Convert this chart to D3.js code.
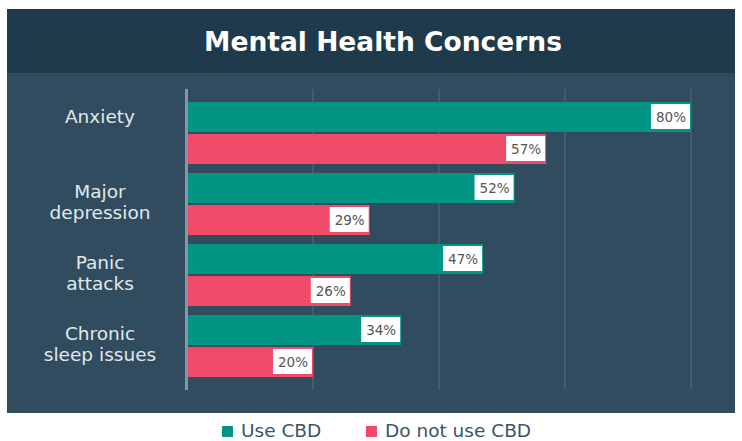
<html>
  <head>
    <meta charset="UTF-8">
    <title>Mental Health Concerns</title>
    <style type="text/css">
      body {
        margin: 0;
        background-color: #fff;
      }
      svg {
        display: block;
        font-family: "DejaVu Sans", sans-serif;
      }
      .catLabel {
        fill: #e3e8ec;
        font-size: 18.5px;
      }
      .valLabel {
        fill: #555;
        font-size: 13.5px;
      }
      .legendText {
        fill: #3b5566;
        font-size: 18.5px;
      }
    </style>
    <script src="https://cdn.jsdelivr.net/npm/d3@7"></script>
  </head>
  <body>
    <div id="chart"></div>

    <script type="text/javascript">

      var width = 742, height = 441;

      // data
      var categories = ["Anxiety", "Major\ndepression", "Panic\nattacks", "Chronic\nsleep issues"];
      var series = ["Use CBD", "Do not use CBD"];
      var useCBD = [80, 52, 47, 34];
      var noCBD = [57, 29, 26, 20];
      var gridTicks = [20, 40, 60, 80];
      var colors = ["#029584", "#ef4b69"];

      var rows = categories.map(function(c, i) {
        return { cat: c, values: [useCBD[i], noCBD[i]] };
      });

      var svg = d3.select("#chart")
        .append("svg")
        .attr("width", width)
        .attr("height", height);

      // panel + title band
      svg.append("rect").attr("x", 7).attr("y", 9).attr("width", 728).attr("height", 404).attr("fill", "#304c5e");
      svg.append("rect").attr("x", 7).attr("y", 9).attr("width", 728).attr("height", 64).attr("fill", "#1e3a4b");
      svg.append("text")
        .attr("x", 383).attr("y", 51)
        .attr("text-anchor", "middle")
        .attr("fill", "#fff")
        .style("font-weight", "bold")
        .style("font-size", "26.5px")
        .text("Mental Health Concerns");

      // scales
      var xScale = d3.scaleLinear().domain([0, 80]).range([187, 691]);
      var yScale = d3.scaleBand().domain(categories).range([89, 390])
        .paddingInner(9 / 71).paddingOuter(13 / 71);
      var sScale = d3.scaleBand().domain(series).range([0, yScale.bandwidth()]).paddingInner(2 / 32);

      // gridlines behind bars
      svg.selectAll(".grid")
        .data(gridTicks)
        .enter()
        .append("line")
        .attr("class", "grid")
        .attr("x1", function(d) { return xScale(d); })
        .attr("x2", function(d) { return xScale(d); })
        .attr("y1", 89).attr("y2", 390)
        .attr("stroke", "#4f697b")
        .attr("stroke-width", 1.2);

      var groups = svg.selectAll(".group")
        .data(rows)
        .enter()
        .append("g")
        .attr("class", "group")
        .attr("transform", function(d) { return "translate(0," + yScale(d.cat) + ")"; });

      var bars = groups.selectAll(".bar")
        .data(function(d) { return d.values.map(function(v, i) { return { s: series[i], v: v, i: i }; }); })
        .enter()
        .append("g")
        .attr("class", "bar");

      bars.append("rect")
        .attr("x", xScale(0))
        .attr("y", function(d) { return sScale(d.s); })
        .attr("width", function(d) { return xScale(d.v) - xScale(0); })
        .attr("height", sScale.bandwidth())
        .attr("fill", function(d) { return colors[d.i]; });

      // white value boxes at bar ends
      bars.append("rect")
        .attr("x", function(d) { return xScale(d.v) - 40; })
        .attr("y", function(d) { return sScale(d.s) + 2; })
        .attr("width", 39)
        .attr("height", 25)
        .attr("fill", "#fff");

      bars.append("text")
        .attr("class", "valLabel")
        .attr("x", function(d) { return xScale(d.v) - 20; })
        .attr("y", function(d) { return sScale(d.s) + 19.5; })
        .attr("text-anchor", "middle")
        .text(function(d) { return d.v + "%"; });

      // category labels, centred at x=100
      groups.append("text")
        .attr("class", "catLabel")
        .attr("text-anchor", "middle")
        .each(function(d) {
          var lines = d.cat.split("\n");
          var mid = yScale.bandwidth() / 2;
          var t = d3.select(this);
          lines.forEach(function(l, k) {
            var y = lines.length == 1 ? mid - 10 : mid - 6 + k * 20.5;
            t.append("tspan").attr("x", 100).attr("y", y).text(l);
          });
        });

      // vertical axis line
      svg.append("line")
        .attr("x1", 186.5).attr("x2", 186.5)
        .attr("y1", 89).attr("y2", 390)
        .attr("stroke", "#8597a7")
        .attr("stroke-width", 3);

      // legend
      var legendX = [222, 366];
      var legend = svg.selectAll(".legend")
        .data(series)
        .enter()
        .append("g")
        .attr("class", "legend")
        .attr("transform", function(d, i) { return "translate(" + legendX[i] + ",426)"; });

      legend.append("rect").attr("width", 11).attr("height", 11)
        .attr("fill", function(d, i) { return colors[i]; });
      legend.append("text").attr("class", "legendText")
        .attr("x", 19).attr("y", 10.5)
        .text(function(d) { return d; });

    </script>
  </body>
</html>
